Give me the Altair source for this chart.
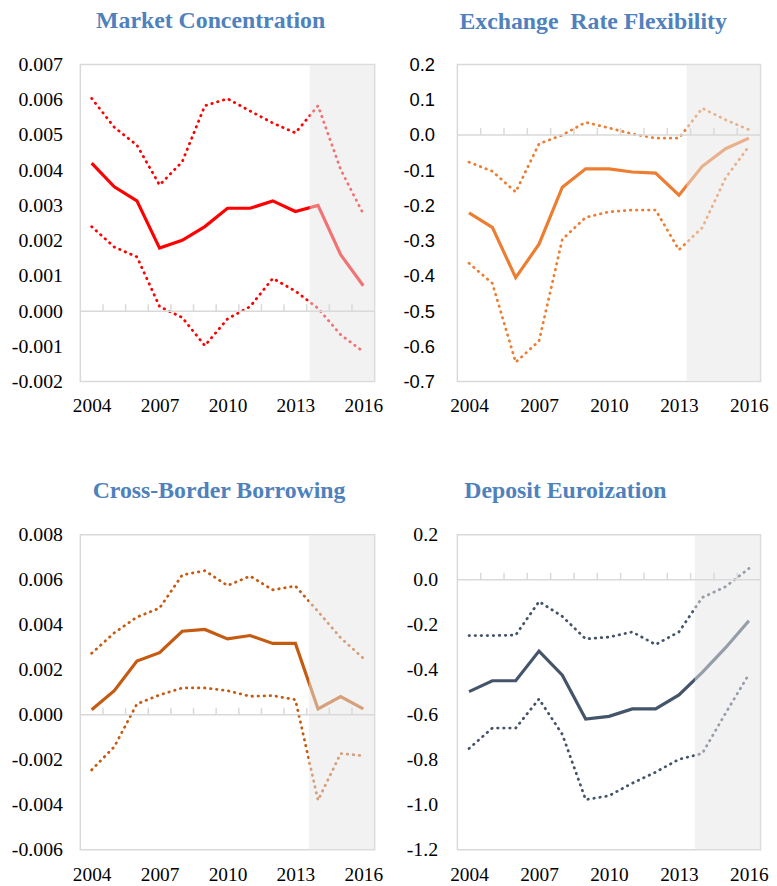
import altair as alt
import pandas as pd

years = list(range(2004, 2017))
label_years = [2004, 2007, 2010, 2013, 2016]

titles = ["Market Concentration", "Exchange\u00a0 Rate Flexibility",
          "Cross-Border Borrowing", "Deposit Euroization"]

mc_mid = [0.0042, 0.00353, 0.00313, 0.00179, 0.00201, 0.0024, 0.00292, 0.00292, 0.00313, 0.00283, 0.0030, 0.0016, 0.00072]
mc_upper = [0.00604, 0.00522, 0.00471, 0.00358, 0.00424, 0.00583, 0.00603, 0.00568, 0.00534, 0.00506, 0.00583, 0.00402, 0.00276]
mc_lower = [0.0024, 0.00182, 0.00154, 0.00013, -0.00018, -0.00098, -0.00022, 0.00013, 0.00093, 0.00057, 0.00008, -0.00067, -0.00115]

er_mid = [-0.221, -0.262, -0.405, -0.310, -0.148, -0.096, -0.096, -0.105, -0.108, -0.171, -0.089, -0.039, -0.009]
er_upper = [-0.077, -0.103, -0.162, -0.025, 0.0, 0.036, 0.020, 0.003, -0.009, -0.009, 0.076, 0.043, 0.015]
er_lower = [-0.364, -0.421, -0.645, -0.585, -0.296, -0.234, -0.218, -0.213, -0.213, -0.326, -0.263, -0.122, -0.032]

cb_mid = [0.00022, 0.00107, 0.00239, 0.00276, 0.00371, 0.00379, 0.00337, 0.00352, 0.00317, 0.00317, 0.00026, 0.00081, 0.00026]
cb_upper = [0.00273, 0.00364, 0.00434, 0.00474, 0.00621, 0.0064, 0.00574, 0.00616, 0.00555, 0.00572, 0.00459, 0.00342, 0.00251]
cb_lower = [-0.00245, -0.00142, 0.00048, 0.00088, 0.00119, 0.00119, 0.00107, 0.00082, 0.00085, 0.00067, -0.0038, -0.00172, -0.00182]

de_mid = [-0.497, -0.449, -0.449, -0.317, -0.424, -0.619, -0.607, -0.574, -0.574, -0.512, -0.412, -0.302, -0.182]
de_upper = [-0.248, -0.248, -0.246, -0.097, -0.163, -0.263, -0.255, -0.232, -0.288, -0.232, -0.079, -0.031, 0.05]
de_lower = [-0.750, -0.659, -0.659, -0.530, -0.687, -0.977, -0.960, -0.904, -0.855, -0.798, -0.772, -0.593, -0.420]

mc_ticks = [-0.002, -0.001, 0.0, 0.001, 0.002, 0.003, 0.004, 0.005, 0.006, 0.007]
er_ticks = [-0.7, -0.6, -0.5, -0.4, -0.3, -0.2, -0.1, 0.0, 0.1, 0.2]
cb_ticks = [-0.006, -0.004, -0.002, 0.0, 0.002, 0.004, 0.006, 0.008]
de_ticks = [-1.2, -1.0, -0.8, -0.6, -0.4, -0.2, 0.0, 0.2]

shade_starts = [2013.63, 2013.33, 2013.6, 2013.68]
colors = ["#FF0000", "#ED7D31", "#C55A11", "#44546A"]

X_MIN, X_MAX = 2003.5, 2016.5
SERIF = "Liberation Serif"
TITLE_COLOR = "#4F81BD"
GRID_GRAY = "#D9D9D9"


def panel(title, dx, mid, upper, lower, color, ticks, fmt, lab_font, lab_size,
          lab_pad, extent, shade_start, width, height):
    df = pd.DataFrame({"year": years, "mid": mid, "upper": upper, "lower": lower})
    ymin, ymax = ticks[0], ticks[-1]
    xscale = alt.Scale(domain=[X_MIN, X_MAX], nice=False, zero=False)
    yscale = alt.Scale(domain=[ymin, ymax], nice=False, zero=False)
    xax = alt.Axis(values=label_years, format="d", domain=False, ticks=False, grid=False,
                   labelFont=SERIF, labelFontSize=19.5, labelPadding=15.5,
                   labelColor="black", title=None, labelFlush=False, labelOverlap=False)
    yax = alt.Axis(values=ticks, domain=False, ticks=False, grid=False,
                   labelExpr="replace(format(datum.value, '%s'), '\u2212', '-')" % fmt,
                   labelFont=lab_font, labelFontSize=lab_size, labelPadding=lab_pad,
                   labelColor="black", title=None, minExtent=extent, maxExtent=extent,
                   labelOverlap=False, labelFlush=False)

    def X(field):
        return alt.X(field, scale=xscale, axis=xax, title=None)

    def Y(field):
        return alt.Y(field, scale=yscale, axis=yax, title=None)

    def YD(v):
        return alt.YDatum(v, scale=yscale, axis=yax, title=None)

    base = alt.Chart(df)
    mid_line = base.mark_line(color=color, strokeWidth=3.2).encode(
        x=X("year:Q"), y=Y("mid:Q"))
    up_line = base.mark_line(color=color, strokeWidth=2.8, strokeDash=[0.5, 5.6],
                             strokeCap="round").encode(x=X("year:Q"), y=Y("upper:Q"))
    lo_line = base.mark_line(color=color, strokeWidth=2.8, strokeDash=[0.5, 5.6],
                             strokeCap="round").encode(x=X("year:Q"), y=Y("lower:Q"))

    shade = alt.Chart(pd.DataFrame({"start": [shade_start], "end": [X_MAX]})).mark_rect(
        color="#E5E5E5", opacity=0.5).encode(
        x=X("start:Q"), x2="end:Q", y=YD(ymax), y2=alt.datum(ymin))

    zero = alt.Chart(pd.DataFrame({"a": [X_MIN], "b": [X_MAX]})).mark_rule(
        color=GRID_GRAY, strokeWidth=1.5).encode(x=X("a:Q"), x2="b:Q", y=YD(0))

    tick_df = pd.DataFrame({"tx": [y + 0.5 for y in years[:-1]]})
    tks = alt.Chart(tick_df).mark_rule(color=GRID_GRAY, strokeWidth=1.5, y2Offset=-7).encode(
        x=X("tx:Q"), y=YD(0), y2=alt.datum(0))

    return alt.layer(mid_line, up_line, lo_line, shade, zero, tks).properties(
        width=width, height=height,
        title=alt.TitleParams(title, font=SERIF, fontSize=24, fontWeight="bold",
                              color=TITLE_COLOR, anchor="middle", frame="group",
                              dx=dx, offset=3, baseline="alphabetic"))


p1 = panel(titles[0], -17, mc_mid, mc_upper, mc_lower, colors[0], mc_ticks, ".3f",
           SERIF, 20, 18, 72, shade_starts[0], 297, 320)
p2 = panel(titles[1], -16, er_mid, er_upper, er_lower, colors[1], er_ticks, ".1f",
           "Liberation Sans", 18.5, 23, 56, shade_starts[1], 306, 320)
p3 = panel(titles[2], -8.5, cb_mid, cb_upper, cb_lower, colors[2], cb_ticks, ".3f",
           SERIF, 20, 18, 72, shade_starts[2], 297, 318)
p4 = panel(titles[3], -44, de_mid, de_upper, de_lower, colors[3], de_ticks, ".1f",
           SERIF, 20, 20, 56, shade_starts[3], 306, 318)

chart = alt.vconcat(
    alt.hconcat(p1, p2, spacing=17.5),
    alt.hconcat(p3, p4, spacing=17.5),
    spacing=62.5,
).properties(padding={"left": 0, "top": -4, "right": 0, "bottom": 0},
             background="white").configure_view(
    stroke=GRID_GRAY, strokeWidth=1.5)

chart.save("out.html", embed_options={"renderer": "svg", "actions": False})
